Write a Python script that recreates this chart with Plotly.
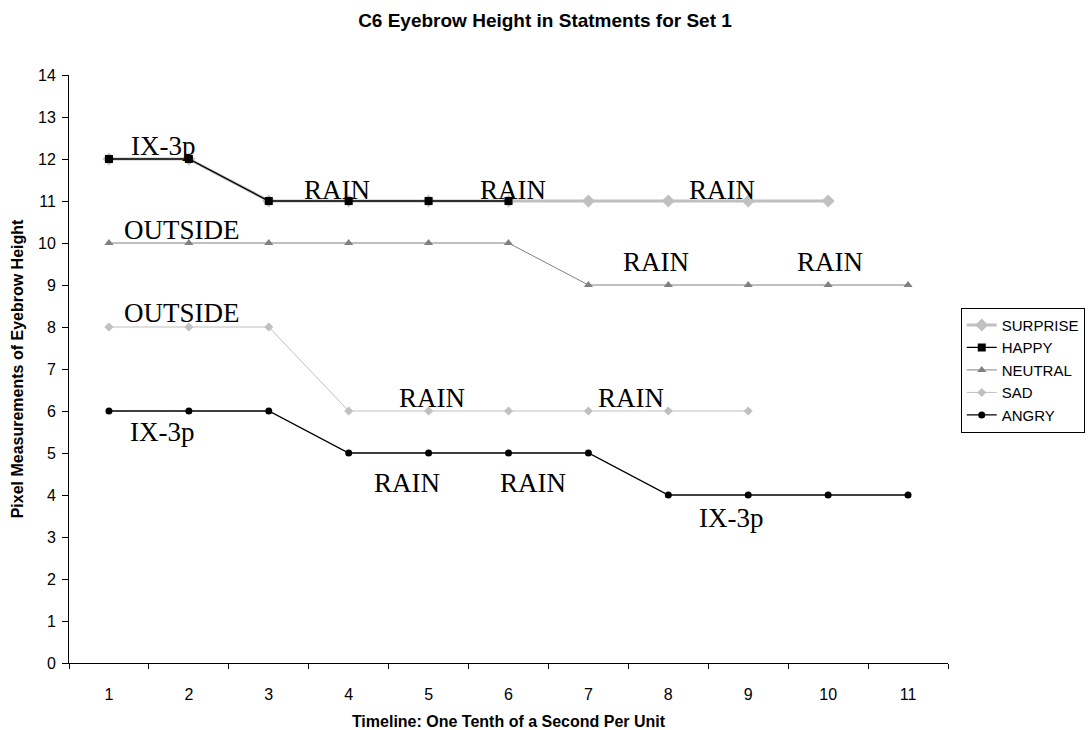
import plotly.graph_objects as go

# Eyebrow height (pixels) per time step, set 1
timeline = list(range(1, 12))
surprise = [12, 12, 11, 11, 11, 11, 11, 11, 11, 11]
happy = [12, 12, 11, 11, 11, 11]
neutral = [10, 10, 10, 10, 10, 10, 9, 9, 9, 9, 9]
sad = [8, 8, 8, 6, 6, 6, 6, 6, 6]
angry = [6, 6, 6, 5, 5, 5, 5, 4, 4, 4, 4]

# Word labels spoken during each statement
label_text = ["IX-3p", "RAIN", "RAIN", "RAIN", "OUTSIDE", "RAIN", "RAIN",
              "OUTSIDE", "RAIN", "RAIN", "IX-3p", "RAIN", "RAIN", "IX-3p"]
label_x = [1.68, 3.85, 6.05, 8.67, 1.91, 7.85, 10.02,
           1.91, 5.04, 7.53, 1.66, 4.73, 6.31, 8.78]
label_y = [12.3, 11.26, 11.26, 11.26, 10.31, 9.55, 9.55,
           8.33, 6.31, 6.31, 5.5, 4.29, 4.29, 3.45]

series = [
    ("SURPRISE", surprise, "#c0c0c0", 3, "diamond", 10),
    ("HAPPY", happy, "#000000", 1.3, "square", 8),
    ("NEUTRAL", neutral, "#808080", 1, "triangle-up", 8),
    ("SAD", sad, "#c0c0c0", 1, "diamond", 7),
    ("ANGRY", angry, "#000000", 1.3, "circle", 7),
]

fig = go.Figure()
for name, vals, color, width, symbol, msize in series:
    fig.add_trace(go.Scatter(
        x=timeline[:len(vals)], y=vals, name=name, mode="lines+markers",
        line=dict(color=color, width=width),
        marker=dict(symbol=symbol, size=msize, color=color),
    ))

for t, x, y in zip(label_text, label_x, label_y):
    fig.add_annotation(x=x, y=y, text=t, showarrow=False,
                       font=dict(family="Liberation Serif", size=27, color="#000"))

fig.update_layout(
    width=1090, height=730,
    paper_bgcolor="white", plot_bgcolor="white",
    margin=dict(l=69, r=142, t=75, b=67, autoexpand=False),
    font=dict(family="Liberation Sans", size=16, color="#000"),
    title=dict(text="<b>C6 Eyebrow Height in Statments for Set 1</b>",
               x=0.5, xanchor="center", y=1 - 20 / 730, yanchor="middle",
               font=dict(size=19)),
    showlegend=True,
    legend=dict(x=1.0145, xanchor="left", y=0.498, yanchor="middle",
                bordercolor="#000", borderwidth=1, bgcolor="white",
                font=dict(size=15), tracegroupgap=0),
)

fig.update_xaxes(
    range=[0.5, 11.5], tickmode="array", tickvals=timeline,
    ticks="", showgrid=False, zeroline=False, automargin=False,
    showline=True, linecolor="#000", linewidth=1,
    ticklabelstandoff=17,
    minor=dict(tickmode="array", tickvals=[i + 0.5 for i in range(0, 12)],
               ticks="outside", ticklen=5, tickcolor="#000", showgrid=False),
    title=dict(text="<b>Timeline: One Tenth of a Second Per Unit</b>",
               font=dict(size=16), standoff=14),
    tickfont=dict(size=16),
)
fig.update_yaxes(
    range=[0, 14], dtick=1, ticks="outside", ticklen=6, tickcolor="#000",
    showgrid=False, zeroline=False, automargin=False,
    showline=True, linecolor="#000", linewidth=1,
    ticklabelstandoff=3,
    title=dict(text="<b>Pixel Measurements of Eyebrow Height</b>",
               font=dict(size=16), standoff=10),
    tickfont=dict(size=16),
)

fig.write_html("out.html")
